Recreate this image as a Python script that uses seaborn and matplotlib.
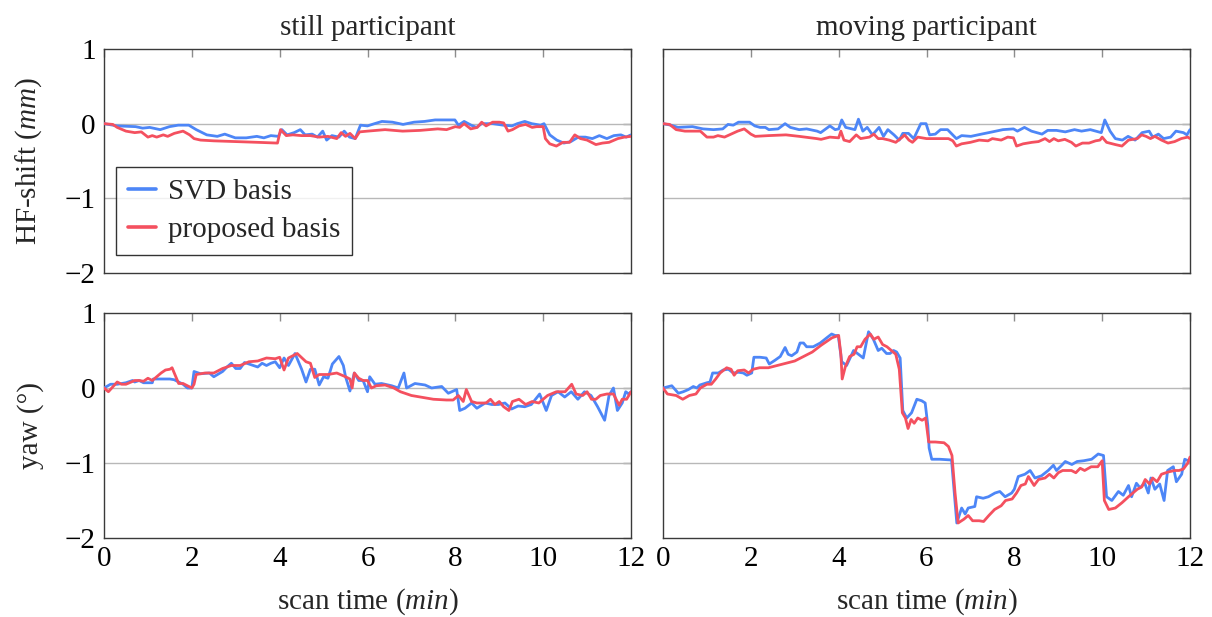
import numpy as np
import pandas as pd
import matplotlib
matplotlib.use("Agg")
import matplotlib.pyplot as plt
import seaborn as sns

# ---- data: (scan time in min, value) ----
panel_titles = ["still participant", "moving participant"]
row_labels = ["HF-shift ($\\mathit{mm}$)", "yaw (°)"]
series_names = ["SVD basis", "proposed basis"]
x_ticks = [0, 2, 4, 6, 8, 10, 12]
y_ticks = [1, 0, -1, -2]

still_hf_svd = [
    (0, 0), (0.3, -0.03), (0.72, -0.04), (0.88, -0.06), (1.04, -0.05), (1.28, -0.08),
    (1.49, -0.04), (1.69, -0.02), (1.93, -0.02), (2.1, -0.08), (2.34, -0.15), (2.58, -0.17),
    (2.75, -0.14), (2.99, -0.19), (3.24, -0.19), (3.48, -0.17), (3.64, -0.19), (3.8, -0.16),
    (3.97, -0.17), (4.05, -0.08), (4.17, -0.15), (4.33, -0.12), (4.47, -0.08), (4.58, -0.15),
    (4.74, -0.14), (4.86, -0.18), (4.98, -0.1), (5.07, -0.22), (5.19, -0.16), (5.35, -0.18),
    (5.47, -0.1), (5.59, -0.18), (5.72, -0.2), (5.84, -0.02), (6.0, -0.03), (6.16, 0.0),
    (6.33, 0.03), (6.57, 0.02), (6.81, -0.01), (7.06, 0.02), (7.3, 0.03), (7.54, 0.05),
    (7.79, 0.05), (7.99, 0.05), (8.07, -0.02), (8.2, 0.03), (8.36, -0.02), (8.48, -0.05),
    (8.6, 0.0), (8.85, 0.0), (9.09, -0.02), (9.29, -0.03), (9.41, 0.0), (9.58, 0.03),
    (9.74, 0.0), (9.94, -0.02), (10.02, 0.0), (10.15, -0.15), (10.31, -0.22), (10.47, -0.26),
    (10.63, -0.24), (10.8, -0.18), (10.96, -0.18), (11.12, -0.2), (11.28, -0.16), (11.45, -0.2),
    (11.61, -0.16), (11.77, -0.15), (11.89, -0.18), (12.0, -0.15),
]
still_hf_prop = [
    (0, 0), (0.2, -0.01), (0.3, -0.05), (0.5, -0.1), (0.7, -0.12), (0.85, -0.11), (1.0, -0.18),
    (1.1, -0.16), (1.2, -0.18), (1.35, -0.15), (1.45, -0.17), (1.6, -0.13), (1.8, -0.1),
    (1.95, -0.15), (2.05, -0.2), (2.2, -0.22), (2.5, -0.23), (3.0, -0.24), (3.5, -0.25),
    (3.95, -0.26), (4.02, -0.08), (4.15, -0.16), (4.3, -0.15), (4.5, -0.16), (4.7, -0.16),
    (4.9, -0.18), (5.1, -0.17), (5.3, -0.2), (5.4, -0.12), (5.5, -0.17), (5.6, -0.13),
    (5.72, -0.2), (5.82, -0.11), (6.0, -0.1), (6.4, -0.08), (6.8, -0.1), (7.2, -0.09),
    (7.6, -0.07), (7.8, -0.08), (8.0, -0.04), (8.1, -0.05), (8.2, 0.0), (8.35, -0.07),
    (8.5, -0.05), (8.6, 0.02), (8.7, -0.03), (8.85, 0.02), (9.0, 0.02), (9.1, 0.01),
    (9.2, -0.1), (9.3, -0.08), (9.45, -0.03), (9.6, -0.01), (9.75, -0.05), (9.85, -0.04),
    (10.0, -0.04), (10.05, -0.2), (10.15, -0.27), (10.3, -0.3), (10.45, -0.25), (10.6, -0.25),
    (10.72, -0.15), (10.85, -0.2), (11.0, -0.22), (11.2, -0.28), (11.35, -0.26), (11.5, -0.25),
    (11.7, -0.2), (11.85, -0.18), (12.0, -0.17),
]
moving_hf_svd = [
    (0, 0), (0.18, -0.02), (0.34, -0.05), (0.67, -0.04), (0.91, -0.07), (1.15, -0.08),
    (1.36, -0.07), (1.48, -0.01), (1.6, -0.02), (1.72, 0.02), (1.97, 0.02), (2.09, -0.03),
    (2.21, -0.05), (2.33, -0.05), (2.41, -0.08), (2.62, -0.07), (2.78, 0.0), (2.9, -0.05),
    (3.1, -0.08), (3.27, -0.07), (3.51, -0.1), (3.59, -0.12), (3.8, -0.03), (3.92, -0.08),
    (4.0, -0.07), (4.07, 0.05), (4.16, -0.05), (4.37, -0.08), (4.45, 0.06), (4.55, -0.1),
    (4.65, -0.05), (4.77, -0.15), (4.92, -0.05), (5.02, -0.17), (5.12, -0.08), (5.26, -0.15),
    (5.38, -0.22), (5.46, -0.13), (5.59, -0.13), (5.71, -0.2), (5.87, 0.0), (5.99, 0.0),
    (6.07, -0.15), (6.2, -0.14), (6.32, -0.08), (6.48, -0.08), (6.68, -0.2), (6.8, -0.16),
    (7.01, -0.17), (7.25, -0.14), (7.5, -0.11), (7.74, -0.08), (7.98, -0.07), (8.07, -0.1),
    (8.23, -0.05), (8.39, -0.1), (8.63, -0.14), (8.76, -0.09), (8.96, -0.09), (9.16, -0.11),
    (9.37, -0.08), (9.53, -0.1), (9.73, -0.08), (9.98, -0.12), (10.06, 0.05), (10.18, -0.1),
    (10.3, -0.2), (10.46, -0.22), (10.59, -0.17), (10.75, -0.22), (10.91, -0.12), (11.07, -0.1),
    (11.15, -0.18), (11.28, -0.14), (11.4, -0.2), (11.56, -0.18), (11.68, -0.1), (11.85, -0.12),
    (11.93, -0.15), (12.0, -0.08),
]
moving_hf_prop = [
    (0, 0), (0.15, -0.01), (0.3, -0.08), (0.5, -0.1), (0.7, -0.1), (0.85, -0.1), (1.0, -0.18),
    (1.15, -0.18), (1.25, -0.16), (1.4, -0.18), (1.55, -0.14), (1.7, -0.1), (1.85, -0.07),
    (2.0, -0.14), (2.1, -0.17), (2.4, -0.16), (2.8, -0.15), (3.1, -0.17), (3.5, -0.2),
    (3.6, -0.21), (3.8, -0.18), (4.0, -0.19), (4.05, -0.1), (4.12, -0.22), (4.25, -0.24),
    (4.4, -0.15), (4.5, -0.2), (4.7, -0.18), (4.8, -0.14), (4.9, -0.2), (5.0, -0.2),
    (5.15, -0.22), (5.3, -0.25), (5.45, -0.18), (5.5, -0.15), (5.6, -0.22), (5.68, -0.25),
    (5.8, -0.18), (6.0, -0.2), (6.3, -0.2), (6.5, -0.2), (6.6, -0.23), (6.68, -0.3),
    (6.8, -0.27), (7.0, -0.25), (7.2, -0.22), (7.4, -0.23), (7.5, -0.2), (7.7, -0.22),
    (7.85, -0.18), (7.98, -0.19), (8.05, -0.3), (8.2, -0.27), (8.4, -0.25), (8.55, -0.24),
    (8.7, -0.2), (8.8, -0.24), (8.9, -0.2), (9.0, -0.23), (9.15, -0.21), (9.3, -0.25),
    (9.4, -0.3), (9.55, -0.26), (9.7, -0.26), (9.85, -0.23), (9.95, -0.22), (10.0, -0.18),
    (10.1, -0.25), (10.3, -0.28), (10.45, -0.3), (10.6, -0.22), (10.8, -0.2), (10.9, -0.15),
    (11.0, -0.17), (11.1, -0.2), (11.2, -0.17), (11.35, -0.22), (11.5, -0.26), (11.65, -0.24),
    (11.8, -0.2), (11.95, -0.18), (12.0, -0.2),
]
still_yaw_svd = [
    (0, 0), (0.15, 0.05), (0.3, 0.05), (0.5, 0.07), (0.65, 0.1), (0.7, 0.08), (0.8, 0.1),
    (0.9, 0.07), (1.0, 0.07), (1.1, 0.07), (1.12, 0.12), (1.3, 0.12), (1.5, 0.12), (1.6, 0.11),
    (1.7, 0.08), (1.8, 0.05), (1.9, 0.0), (2.0, 0.0), (2.05, 0.22), (2.2, 0.19), (2.4, 0.2),
    (2.5, 0.15), (2.7, 0.22), (2.8, 0.28), (2.9, 0.33), (3.0, 0.26), (3.1, 0.26), (3.2, 0.34),
    (3.4, 0.3), (3.5, 0.28), (3.6, 0.33), (3.7, 0.3), (3.8, 0.33), (3.9, 0.35), (4.0, 0.27),
    (4.1, 0.4), (4.2, 0.3), (4.35, 0.46), (4.5, 0.25), (4.6, 0.08), (4.7, 0.25), (4.8, 0.25),
    (4.9, 0.04), (5.0, 0.15), (5.1, 0.13), (5.2, 0.32), (5.35, 0.42), (5.45, 0.3), (5.5, 0.15),
    (5.6, -0.04), (5.7, 0.2), (5.8, 0.1), (5.9, 0.1), (6.0, -0.05), (6.05, 0.15), (6.17, 0.05),
    (6.32, 0.06), (6.55, 0.03), (6.7, 0.0), (6.83, 0.2), (6.89, 0.0), (7.08, 0.06), (7.31, 0.04),
    (7.46, 0.0), (7.69, 0.02), (7.84, -0.07), (8.03, -0.02), (8.1, -0.3), (8.22, -0.27),
    (8.37, -0.2), (8.49, -0.27), (8.68, -0.2), (8.83, -0.22), (8.98, -0.22), (9.13, -0.2),
    (9.28, -0.28), (9.43, -0.24), (9.58, -0.25), (9.73, -0.22), (9.92, -0.08), (10.07, -0.3),
    (10.19, -0.1), (10.34, -0.05), (10.49, -0.12), (10.64, -0.05), (10.79, -0.15), (10.94, -0.05),
    (11.09, -0.1), (11.24, -0.25), (11.4, -0.43), (11.5, -0.1), (11.6, 0.0), (11.69, -0.3),
    (11.8, -0.2), (11.88, -0.05), (11.95, -0.08), (12.0, -0.05),
]
still_yaw_prop = [
    (0, 0), (0.1, -0.05), (0.3, 0.08), (0.4, 0.05), (0.5, 0.05), (0.7, 0.1), (0.8, 0.1),
    (0.9, 0.09), (1.0, 0.13), (1.1, 0.1), (1.2, 0.15), (1.3, 0.2), (1.4, 0.24), (1.5, 0.25),
    (1.55, 0.27), (1.6, 0.2), (1.7, 0.06), (1.8, 0.06), (1.9, 0.03), (2.0, 0.0), (2.05, 0.05),
    (2.1, 0.18), (2.3, 0.2), (2.5, 0.2), (2.7, 0.26), (2.9, 0.3), (3.1, 0.3), (3.3, 0.35),
    (3.5, 0.36), (3.7, 0.4), (3.9, 0.39), (4.0, 0.41), (4.1, 0.24), (4.2, 0.4), (4.4, 0.46),
    (4.6, 0.35), (4.7, 0.33), (4.8, 0.14), (4.9, 0.18), (5.1, 0.18), (5.3, 0.2), (5.5, 0.15),
    (5.6, 0.12), (5.65, 0.0), (5.7, 0.2), (5.8, 0.13), (5.9, 0.1), (6.0, 0.1), (6.09, 0.0),
    (6.2, 0.03), (6.4, 0.04), (6.6, 0.0), (6.75, -0.05), (7.0, -0.1), (7.2, -0.12),
    (7.5, -0.15), (7.8, -0.16), (7.95, -0.16), (8.07, -0.1), (8.18, -0.18), (8.25, -0.02),
    (8.37, -0.18), (8.49, -0.2), (8.7, -0.2), (8.8, -0.15), (8.9, -0.22), (9.0, -0.18),
    (9.1, -0.25), (9.22, -0.3), (9.3, -0.18), (9.45, -0.15), (9.6, -0.22), (9.75, -0.18),
    (9.9, -0.2), (10.0, -0.15), (10.1, -0.1), (10.3, -0.05), (10.5, -0.05), (10.65, 0.05),
    (10.75, -0.08), (10.9, -0.1), (11.0, -0.05), (11.1, -0.15), (11.2, -0.15), (11.3, -0.1),
    (11.45, -0.08), (11.6, -0.08), (11.73, -0.23), (11.8, -0.15), (11.9, -0.15), (12.0, -0.05),
]
moving_yaw_svd = [
    (0, 0), (0.2, 0.03), (0.35, -0.07), (0.46, -0.05), (0.58, -0.02), (0.69, 0.02), (0.77, 0.0),
    (0.84, 0.04), (1.0, 0.07), (1.07, 0.08), (1.13, 0.2), (1.26, 0.2), (1.37, 0.24), (1.49, 0.25),
    (1.6, 0.2), (1.72, 0.21), (1.83, 0.2), (1.91, 0.17), (2.02, 0.2), (2.07, 0.41), (2.21, 0.41),
    (2.35, 0.4), (2.42, 0.32), (2.55, 0.37), (2.67, 0.42), (2.78, 0.54), (2.85, 0.45),
    (2.93, 0.43), (3.05, 0.48), (3.12, 0.6), (3.2, 0.6), (3.27, 0.55), (3.42, 0.55), (3.58, 0.6),
    (3.73, 0.67), (3.84, 0.72), (3.92, 0.7), (3.99, 0.7), (4.07, 0.35), (4.18, 0.3), (4.26, 0.4),
    (4.34, 0.5), (4.45, 0.45), (4.56, 0.4), (4.68, 0.75), (4.79, 0.65), (4.9, 0.5), (4.98, 0.53),
    (5.09, 0.46), (5.17, 0.46), (5.25, 0.5), (5.32, 0.48), (5.4, 0.4), (5.46, -0.3),
    (5.55, -0.4), (5.66, -0.33), (5.78, -0.15), (5.89, -0.17), (5.97, -0.2), (6.03, -0.5),
    (6.06, -0.8), (6.12, -0.95), (6.3, -0.95), (6.57, -0.96), (6.69, -1.8), (6.8, -1.6),
    (6.88, -1.68), (6.95, -1.6), (7.1, -1.58), (7.14, -1.45), (7.29, -1.47), (7.41, -1.45),
    (7.56, -1.4), (7.67, -1.38), (7.79, -1.45), (7.94, -1.4), (8.0, -1.35), (8.09, -1.18),
    (8.24, -1.15), (8.36, -1.1), (8.47, -1.2), (8.62, -1.17), (8.77, -1.1), (8.89, -1.03),
    (8.96, -1.1), (9.08, -1.03), (9.16, -0.98), (9.31, -1.02), (9.43, -0.98), (9.58, -0.97),
    (9.76, -0.95), (9.91, -0.88), (10.03, -0.9), (10.1, -1.45), (10.22, -1.5), (10.37, -1.38),
    (10.48, -1.43), (10.6, -1.3), (10.67, -1.45), (10.78, -1.27), (10.86, -1.33), (10.97, -1.27),
    (11.05, -1.4), (11.11, -1.2), (11.2, -1.35), (11.31, -1.28), (11.41, -1.5), (11.49, -1.1),
    (11.62, -1.05), (11.69, -1.25), (11.81, -1.15), (11.88, -0.95), (12.0, -0.98),
]
moving_yaw_prop = [
    (0, 0), (0.1, -0.08), (0.3, -0.1), (0.45, -0.15), (0.6, -0.1), (0.75, -0.08), (0.85, 0.0),
    (1.0, 0.05), (1.1, 0.05), (1.2, 0.12), (1.3, 0.2), (1.45, 0.27), (1.55, 0.25), (1.62, 0.17),
    (1.7, 0.23), (1.85, 0.24), (1.95, 0.2), (2.05, 0.25), (2.2, 0.27), (2.4, 0.27), (2.6, 0.3),
    (2.8, 0.33), (3.0, 0.36), (3.2, 0.42), (3.4, 0.48), (3.6, 0.57), (3.75, 0.63), (3.85, 0.67),
    (4.0, 0.7), (4.05, 0.45), (4.08, 0.12), (4.15, 0.28), (4.25, 0.42), (4.35, 0.45),
    (4.42, 0.55), (4.5, 0.55), (4.6, 0.65), (4.72, 0.72), (4.8, 0.65), (4.9, 0.68), (5.0, 0.58),
    (5.1, 0.55), (5.2, 0.5), (5.3, 0.45), (5.38, 0.25), (5.45, -0.33), (5.52, -0.4),
    (5.58, -0.54), (5.65, -0.42), (5.72, -0.47), (5.8, -0.4), (5.9, -0.43), (5.98, -0.4),
    (6.05, -0.72), (6.2, -0.72), (6.4, -0.73), (6.5, -0.78), (6.58, -0.9), (6.65, -1.4),
    (6.72, -1.8), (6.85, -1.75), (6.95, -1.7), (7.05, -1.77), (7.2, -1.77), (7.3, -1.78),
    (7.42, -1.7), (7.55, -1.62), (7.7, -1.57), (7.8, -1.5), (7.95, -1.48), (8.05, -1.4),
    (8.15, -1.3), (8.25, -1.28), (8.32, -1.18), (8.45, -1.3), (8.55, -1.22), (8.7, -1.2),
    (8.8, -1.15), (8.9, -1.2), (9.0, -1.13), (9.1, -1.1), (9.2, -1.1), (9.3, -1.1),
    (9.4, -1.13), (9.5, -1.07), (9.6, -1.1), (9.75, -1.05), (9.9, -1.05), (10.0, -0.97),
    (10.05, -1.5), (10.15, -1.62), (10.3, -1.6), (10.45, -1.53), (10.6, -1.45), (10.7, -1.4),
    (10.8, -1.35), (10.9, -1.32), (10.98, -1.22), (11.08, -1.28), (11.15, -1.2), (11.25, -1.25),
    (11.35, -1.15), (11.5, -1.12), (11.65, -1.1), (11.75, -1.1), (11.85, -1.08), (11.95, -1.0),
    (12.0, -0.92),
]

panels = [
    [(still_hf_svd, still_hf_prop), (moving_hf_svd, moving_hf_prop)],
    [(still_yaw_svd, still_yaw_prop), (moving_yaw_svd, moving_yaw_prop)],
]

# ---- style ----
sns.set_theme(style="white")
plt.rcParams["font.family"] = ["Liberation Serif", "DejaVu Serif"]
plt.rcParams["mathtext.fontset"] = "custom"
plt.rcParams["mathtext.rm"] = "Liberation Serif"
plt.rcParams["mathtext.it"] = "Liberation Serif:italic"
plt.rcParams["axes.unicode_minus"] = True

colors = ["#4d86f7", "#f4505f"]
frame_color = "#3a3a3a"
tick_color = "#8c8c8c"
fs = 21

fig = plt.figure(figsize=(12.12, 6.17), dpi=100)
lefts = [104 / 1212, 663 / 1212]
width = 527 / 1212
bottoms = [(617 - 273) / 617, (617 - 538) / 617]
heights = [224 / 617, 225 / 617]

for r in range(2):
    for c in range(2):
        ax = fig.add_axes([lefts[c], bottoms[r], width, heights[r]])
        svd, prop = panels[r][c]
        for pts, name, col in zip((svd, prop), series_names, colors):
            df = pd.DataFrame(pts, columns=["t", "v"])
            sns.lineplot(data=df, x="t", y="v", ax=ax, color=col, linewidth=2.0,
                         label=name, sort=False, estimator=None, zorder=3)
        ax.set_xlim(0, 12)
        ax.set_ylim(-2, 1)
        ax.set_xticks(x_ticks)
        ax.set_yticks(y_ticks)
        for yv in (0, -1):
            ax.axhline(yv, color="#b8b8b8", linewidth=1.0, zorder=1)
        ax.tick_params(axis="both", which="both", direction="in", length=5.5, width=1.0,
                       color=tick_color, top=True, right=True, labelsize=fs,
                       pad=6, labelcolor="black")
        for s in ax.spines.values():
            s.set_color(frame_color)
            s.set_linewidth(1.0)
        ax.set_xlabel("")
        ax.set_ylabel("")
        if r == 0:
            ax.set_title(panel_titles[c], fontsize=fs, pad=10)
            ax.tick_params(labelbottom=False)
        else:
            ax.set_xlabel("scan time ($\\mathit{min}$)", fontsize=fs, labelpad=10)
        if c == 0:
            ax.set_ylabel(row_labels[r], fontsize=fs, labelpad=15)
        else:
            ax.tick_params(labelleft=False)
        if r == 0 and c == 0:
            leg = ax.legend(loc="lower left", bbox_to_anchor=(0.023, 0.08), fontsize=fs,
                            frameon=True, fancybox=False, edgecolor="black",
                            handlelength=0.95, handletextpad=0.4, borderpad=0.42,
                            labelspacing=0.38, borderaxespad=0.0)
            leg.get_frame().set_linewidth(1.0)
            for line in leg.get_lines():
                line.set_linewidth(2.6)
        else:
            lg = ax.get_legend()
            if lg is not None:
                lg.remove()

fig.savefig("out.png", dpi=100)
